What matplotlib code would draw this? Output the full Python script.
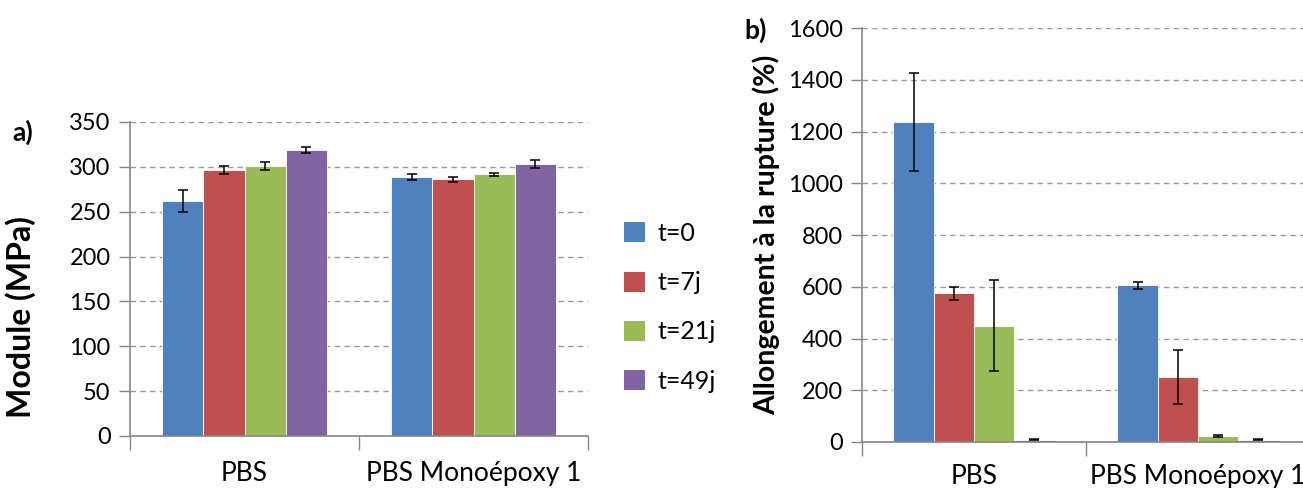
import numpy as np
import matplotlib
matplotlib.use("Agg")
import matplotlib.pyplot as plt
from matplotlib.patches import Patch

plt.rcParams['font.family'] = ['Lato', 'DejaVu Sans']

categories = ["PBS", "PBS Monoépoxy 1"]
series = ["t=0", "t=7j", "t=21j", "t=49j"]
colors = ["#4F81BD", "#C0504D", "#9BBB59", "#8064A2"]

# a) Module (MPa)
module = [[262, 288.5], [297, 286], [301, 291.5], [319, 303]]
module_err = [[12, 3.5], [4.5, 3], [4, 2], [3, 4.5]]

# b) Allongement a la rupture (%)
allong = [[1237, 605], [574, 250], [450, 24], [9, 9]]
allong_err = [[188, 12], [26, 105], [177, 3], [2, 2]]

W, H = 1303, 488
fig = plt.figure(figsize=(W / 100, H / 100), dpi=100)

grid_col = "#9a9a9a"
axis_col = "#868686"
bw = 0.18


def draw(ax, vals, errs, ymax, step, xpad):
    x = np.arange(len(categories)) + 0.5
    for i, (v, e) in enumerate(zip(vals, errs)):
        ax.bar(x + (i - 1.5) * bw, v, bw, color=colors[i], edgecolor="white",
               linewidth=0.6, zorder=2,
               yerr=e, error_kw=dict(ecolor="black", elinewidth=1.1,
                                     capsize=3.5, capthick=1.1, zorder=3))
    ax.set_xlim(0, len(categories))
    ax.set_ylim(0, ymax)
    ax.set_yticks(np.arange(0, ymax + 1, step))
    ax.yaxis.grid(True, linestyle=(0, (4, 3)), color=grid_col, linewidth=1)
    ax.set_axisbelow(True)
    ax.set_xticks(np.arange(len(categories) + 1))
    ax.set_xticklabels([])
    ax.set_xticks(x, minor=True)
    ax.set_xticklabels(categories, minor=True, fontsize=19)
    ax.tick_params(axis="x", which="major", length=10, width=1, color=axis_col, direction="out")
    ax.tick_params(axis="x", which="minor", length=0, pad=xpad)
    ax.tick_params(axis="y", length=8, width=1, color=axis_col, labelsize=17, pad=6)
    for s in ["top", "right"]:
        ax.spines[s].set_visible(False)
    for s in ["left", "bottom"]:
        ax.spines[s].set_color(axis_col)
        ax.spines[s].set_linewidth(1.2)


ax1 = fig.add_axes([130 / W, (H - 436) / H, (588 - 130) / W, 314 / H])
draw(ax1, module, module_err, 350, 50, 18)
ax1.set_ylabel("Module (MPa)", fontsize=23, fontweight="bold")
ax1.yaxis.set_label_coords(-0.205, 0.38)
fig.text(12 / W, 1 - 132 / H, "a)", fontsize=19, fontweight="bold", va="center")

handles = [Patch(facecolor=c, edgecolor="none") for c in colors]
fig.legend(handles, series, loc="upper left", bbox_to_anchor=(614 / W, 1 - 212 / H),
           frameon=False, fontsize=18, handlelength=0.85, handleheight=0.85,
           labelspacing=1.05, handletextpad=0.5, borderaxespad=0)

ax2 = fig.add_axes([862 / W, (H - 442) / H, 448 / W, 414 / H])
draw(ax2, allong, allong_err, 1600, 200, 16)
ax2.set_ylabel("Allongement à la rupture (%)", fontsize=20.5, fontweight="bold")
ax2.yaxis.set_label_coords(-0.183, 0.5)
fig.text(744 / W, 1 - 30 / H, "b)", fontsize=19, fontweight="bold", va="center")

fig.savefig("out.png", dpi=100)
